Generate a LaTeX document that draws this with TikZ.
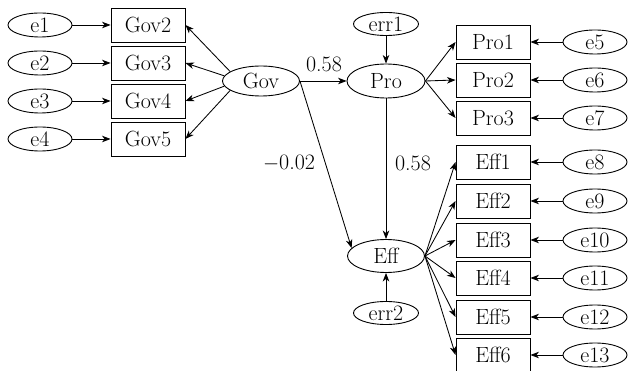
\documentclass[tikz,border=0pt]{standalone}
\usetikzlibrary{arrows.meta,shapes.geometric}
\begin{document}
\begin{tikzpicture}[x=1pt,y=-1pt,
  every node/.style={font=\rmfamily\fontsize{22}{24}\selectfont},
  obs/.style={draw,rectangle,minimum width=74pt,minimum height=34pt,inner sep=0pt,line width=0.9pt},
  lat/.style={draw,ellipse,minimum width=77pt,minimum height=32pt,inner sep=0pt,line width=0.9pt},
  err/.style={draw,ellipse,minimum width=64pt,minimum height=24pt,inner sep=0pt,line width=0.9pt},
  conn/.style={-{Stealth[length=8.5pt,width=6.5pt,inset=2.5pt]},line width=0.85pt},
  lab/.style={inner sep=0pt}]
\useasboundingbox (0,0) rectangle (632,371);
% Gov side
\node[obs] (gov2) at (148,25) {Gov2};
\node[obs] (gov3) at (148,63) {Gov3};
\node[obs] (gov4) at (148,101) {Gov4};
\node[obs] (gov5) at (148,139) {Gov5};
\node[err] (e1) at (40,25) {e1};
\node[err] (e2) at (40,63) {e2};
\node[err] (e3) at (40,101) {e3};
\node[err] (e4) at (40,139) {e4};
\node[lat,minimum height=30pt] (gov) at (261,81) {Gov};
% Pro
\node[lat,minimum width=78pt,minimum height=34pt] (pro) at (386,81) {Pro};
\node[err,minimum width=65pt,minimum height=23pt] (err1) at (386,24) {err1};
\node[obs] (pro1) at (493,42) {Pro1};
\node[obs] (pro2) at (493,80) {Pro2};
\node[obs] (pro3) at (493,118) {Pro3};
\node[err] (e5) at (595,42) {e5};
\node[err] (e6) at (595,80) {e6};
\node[err] (e7) at (595,118) {e7};
% Eff
\node[lat,minimum height=33pt] (eff) at (386,256) {Eff};
\node[err,minimum width=65pt,minimum height=23pt] (err2) at (386,313) {err2};
\node[obs] (eff1) at (493,162) {Eff1};
\node[obs] (eff2) at (493,201) {Eff2};
\node[obs] (eff3) at (493,240) {Eff3};
\node[obs] (eff4) at (493,278) {Eff4};
\node[obs] (eff5) at (493,317) {Eff5};
\node[obs] (eff6) at (493,355) {Eff6};
\node[err] (e8) at (595,162) {e8};
\node[err] (e9) at (595,201) {e9};
\node[err] (e10) at (595,240) {e10};
\node[err] (e11) at (595,278) {e11};
\node[err] (e12) at (595,317) {e12};
\node[err] (e13) at (595,355) {e13};
% connectors
\foreach \i/\g in {1/2,2/3,3/4,4/5} \draw[conn] (e\i) -- (gov\g);
\draw[conn] (gov.163) -- (gov2.east);
\draw[conn] (gov.172) -- (gov3.east);
\draw[conn] (gov.188) -- (gov4.east);
\draw[conn] (gov.197) -- (gov5.east);
\draw[conn] (gov.east) -- (pro.west);
\draw[conn] (gov.east) -- (eff.167);
\draw[conn] (err1) -- (pro);
\draw[conn] (pro) -- (eff);
\draw[conn] (err2) -- (eff);
\foreach \k in {1,2,3} \draw[conn] (pro.east) -- (pro\k.west);
\foreach \k/\e in {1/5,2/6,3/7} \draw[conn] (e\e) -- (pro\k);
\foreach \k in {1,...,6} \draw[conn] (eff.east) -- (eff\k.west);
\foreach \k/\e in {1/8,2/9,3/10,4/11,5/12,6/13} \draw[conn] (e\e) -- (eff\k);
% labels
\node[lab] (l1) at (324,64) {0.58};
\node[lab] (l2) at (289,163) {$-$0.02};
\node[lab] (l3) at (413,163) {0.58};
\end{tikzpicture}
\end{document}
